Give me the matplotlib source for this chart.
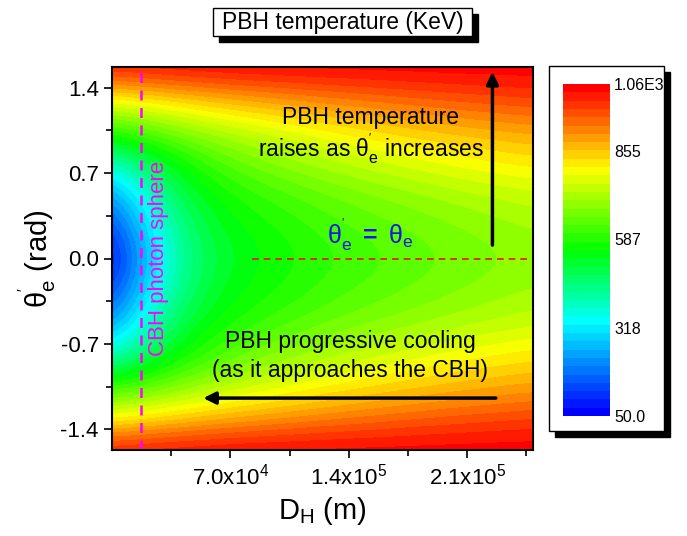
import numpy as np
import matplotlib
matplotlib.use('Agg')
import matplotlib.pyplot as plt
from matplotlib.colors import LinearSegmentedColormap, Normalize
from matplotlib.patches import Rectangle

plt.rcParams['font.family'] = ['Liberation Sans', 'DejaVu Sans']
plt.rcParams['mathtext.fontset'] = 'custom'
plt.rcParams['mathtext.rm'] = 'Liberation Sans'
plt.rcParams['mathtext.it'] = 'Liberation Sans'
plt.rcParams['mathtext.bf'] = 'Liberation Sans:bold'

# distance D_H (m), regular grid of the read-off points
dist = [0, 2.5e4, 5e4, 7.5e4, 1e5, 1.25e5, 1.5e5, 1.75e5, 2e5, 2.25e5, 2.5e5]
# angle rows (rad), the picture is symmetric around theta = 0
theta_pos = [0.0, 0.26, 0.52, 0.79, 1.05, 1.31, 1.57]

t_000 = [55, 320, 470, 535, 565, 595, 618, 638, 657, 674, 690]
t_026 = [120, 350, 490, 552, 583, 612, 636, 656, 675, 692, 708]
t_052 = [220, 410, 530, 585, 620, 650, 675, 695, 715, 732, 748]
t_079 = [380, 500, 590, 650, 690, 720, 745, 768, 790, 805, 820]
t_105 = [600, 650, 700, 740, 770, 800, 825, 845, 862, 876, 890]
t_131 = [800, 830, 860, 885, 905, 925, 940, 955, 968, 978, 988]
t_157 = [1040, 1050, 1055, 1060, 1060, 1060, 1060, 1060, 1060, 1060, 1060]

rows = [t_157, t_131, t_105, t_079, t_052, t_026, t_000,
        t_026, t_052, t_079, t_105, t_131, t_157]
temp = np.array(rows, dtype=float)

cbar_ticks = [50, 318, 587, 855, 1060]
cbar_labels = ['50.0', '318', '587', '855', '1.06E3']
x_major = [7e4, 1.4e5, 2.1e5]
x_labels = [r'$\mathregular{7.0x10^{4}}$', r'$\mathregular{1.4x10^{5}}$',
            r'$\mathregular{2.1x10^{5}}$']
x_minor = [3.5e4, 1.05e5, 1.75e5, 2.45e5]
y_major = [-1.4, -0.7, 0.0, 0.7, 1.4]
y_minor = [-1.05, -0.35, 0.35, 1.05]

W, H = 687, 536


def fx(px):
    return px / W


def fy(py):
    return 1 - py / H


def shadow_box(fig, x0, y0, x1, y1, off=6):
    """Caja blanca con sombra negra, en pixeles"""
    fig.patches.append(Rectangle((fx(x0 + off), fy(y1 + off)), fx(x1) - fx(x0),
                                 fy(y0) - fy(y1), transform=fig.transFigure,
                                 facecolor='black', edgecolor='black', zorder=0))
    fig.patches.append(Rectangle((fx(x0), fy(y1)), fx(x1) - fx(x0),
                                 fy(y0) - fy(y1), transform=fig.transFigure,
                                 facecolor='white', edgecolor='black', lw=1.0, zorder=1))


cmap = LinearSegmentedColormap.from_list(
    'origin_rainbow',
    [(0.0, (0, 0, 1)), (0.28, (0, 1, 1)), (0.5, (0, 1, 0)),
     (0.75, (1, 1, 0)), (1.0, (1, 0, 0))]).resampled(40)
norm = Normalize(vmin=50, vmax=1060)

fig = plt.figure(figsize=(W / 100, H / 100), dpi=100)

ax = fig.add_axes([fx(112), fy(450), fx(533) - fx(112), fy(67) - fy(450)])
dx = dist[1] - dist[0]
dt = np.pi / 12
ax.imshow(temp, origin='lower', aspect='auto', cmap=cmap, norm=norm,
          extent=[dist[0] - dx / 2, dist[-1] + dx / 2,
                  -np.pi / 2 - dt / 2, np.pi / 2 + dt / 2],
          interpolation='bicubic', interpolation_stage='data')
ax.set_xlim(0, 2.49e5)
ax.set_ylim(-np.pi / 2, np.pi / 2)

ax.set_xticks(x_major)
ax.set_xticklabels(x_labels)
ax.set_xticks(x_minor, minor=True)
ax.set_yticks(y_major)
ax.set_yticklabels([f'{v:.1f}' for v in y_major])
ax.set_yticks(y_minor, minor=True)
ax.tick_params(which='both', direction='out', labelsize=16, width=1.2)
ax.tick_params(which='major', length=6)
ax.tick_params(which='minor', length=4)
for sp in ax.spines.values():
    sp.set_linewidth(1.5)

ax.set_xlabel(r'$\mathregular{D_H}$ (m)', fontsize=21, labelpad=4)
ax.set_ylabel(r"$\mathregular{\theta_e^{'}}$ (rad)", fontsize=21, labelpad=2)

# esfera de fotones y linea theta_e' = theta_e
ax.axvline(1.7e4, color='#ff00ff', ls=(0, (4, 3)), lw=1.8)
ax.text(2.75e4, 0.0, 'CBH photon sphere', color='#ff00ff', fontsize=16,
        rotation=90, ha='center', va='center')
ax.plot([8.3e4, 2.49e5], [0, 0], color='#ee1111', ls=(0, (4, 3)), lw=1.2)

ax.text(1.53e5, 1.16, 'PBH temperature', fontsize=16.5, ha='center', va='center')
ax.text(1.53e5, 0.9, r"raises as $\mathregular{\theta_e^{'}}$ increases",
        fontsize=16.5, ha='center', va='center')
ax.text(1.53e5, 0.2,
        r"$\mathregular{\theta_e^{'}}$ $\mathbf{=}$ $\mathregular{\theta_e}$",
        fontsize=18, color='#1414e6', ha='center', va='center')
ax.text(1.41e5, -0.68, 'PBH progressive cooling', fontsize=16.5,
        ha='center', va='center')
ax.text(1.41e5, -0.92, '(as it approaches the CBH)', fontsize=16.5,
        ha='center', va='center')

ax.annotate('', xy=(2.25e5, 1.53), xytext=(2.25e5, 0.11),
            arrowprops=dict(arrowstyle='-|>', color='black', lw=2.5,
                            mutation_scale=18, shrinkA=0, shrinkB=0))
ax.annotate('', xy=(5.4e4, -1.145), xytext=(2.27e5, -1.145),
            arrowprops=dict(arrowstyle='-|>', color='black', lw=2.5,
                            mutation_scale=18, shrinkA=0, shrinkB=0))

# titulo en caja
shadow_box(fig, 213, 8, 472, 36)
fig.text(fx(343), fy(22), 'PBH temperature (KeV)', fontsize=16.5,
         ha='center', va='center', zorder=2)

# barra de color en caja
shadow_box(fig, 549, 66, 664, 431)
cax = fig.add_axes([fx(563), fy(416), fx(610) - fx(563), fy(84) - fy(416)])
cax.set_zorder(3)
sm = plt.cm.ScalarMappable(norm=norm, cmap=cmap)
cb = fig.colorbar(sm, cax=cax)
cb.outline.set_visible(False)
cb.set_ticks(cbar_ticks)
cb.set_ticklabels(cbar_labels)
cax.tick_params(length=0, labelsize=11.5, pad=3)

fig.savefig('out.png', dpi=100)
